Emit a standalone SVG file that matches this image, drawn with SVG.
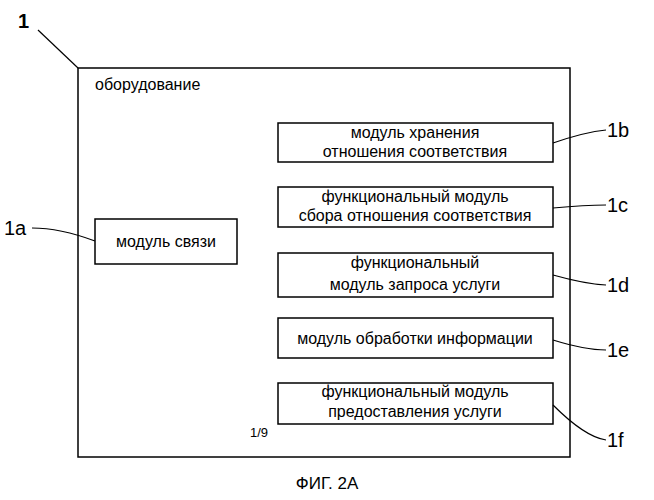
<svg xmlns="http://www.w3.org/2000/svg" width="654" height="500" viewBox="0 0 654 500">
<style>
.b{fill:#fff;stroke:#000;stroke-width:1.5}
.t{font-family:"Liberation Sans",Arial,sans-serif;font-size:16px;fill:#000;text-anchor:middle}
.l{font-family:"Liberation Sans",Arial,sans-serif;font-size:20px;fill:#000}
.c{fill:none;stroke:#000;stroke-width:1.2}
</style>
<rect width="654" height="500" fill="#fff"/>
<g id="equipment"><rect class="b" x="78" y="68" width="492" height="389"/>
<text class="t" x="95" y="90" style="text-anchor:start">оборудование</text>
<text class="l" x="18" y="28" font-weight="bold">1</text></g>
<g id="n1a"><rect class="b" x="95" y="219" width="142" height="45"/><text class="t" x="166" y="247">модуль связи</text><text class="l" x="4" y="235">1a</text></g>
<g id="n1b"><rect class="b" x="278" y="123" width="275" height="39"/><text class="t" x="415" y="138">модуль хранения</text><text class="t" x="415" y="157">отношения соответствия</text><text class="l" x="607" y="137">1b</text></g>
<g id="n1c"><rect class="b" x="278" y="187" width="275" height="40"/><text class="t" x="415" y="202">функциональный модуль</text><text class="t" x="415" y="221">сбора отношения соответствия</text><text class="l" x="607" y="212">1c</text></g>
<g id="n1d"><rect class="b" x="278" y="253" width="275" height="44"/><text class="t" x="415" y="268">функциональный</text><text class="t" x="415" y="290">модуль запроса услуги</text><text class="l" x="607" y="292">1d</text></g>
<g id="n1e"><rect class="b" x="278" y="318" width="275" height="40"/><text class="t" x="415" y="344">модуль обработки информации</text><text class="l" x="607" y="357">1e</text></g>
<g id="n1f"><rect class="b" x="278" y="383" width="275" height="41"/><text class="t" x="415" y="397">функциональный модуль</text><text class="t" x="415" y="417">предоставления услуги</text><text class="l" x="607" y="447">1f</text></g>
<g id="connectors">
<path class="c" d="M38 30 L78 68"/>
<path class="c" d="M32 228 Q60 228 95 241"/>
<path class="c" d="M553 143 Q585 132 606 130"/>
<path class="c" d="M553 208 Q585 205 606 205"/>
<path class="c" d="M553 275 Q585 284 606 285"/>
<path class="c" d="M553 340 Q585 350 606 350"/>
<path class="c" d="M553 405 Q585 437 606 440"/>
</g>
<text class="t" x="259" y="437" style="font-size:13px">1/9</text>
<text class="t" x="327" y="489" style="font-size:17px">ФИГ. 2А</text>
</svg>
